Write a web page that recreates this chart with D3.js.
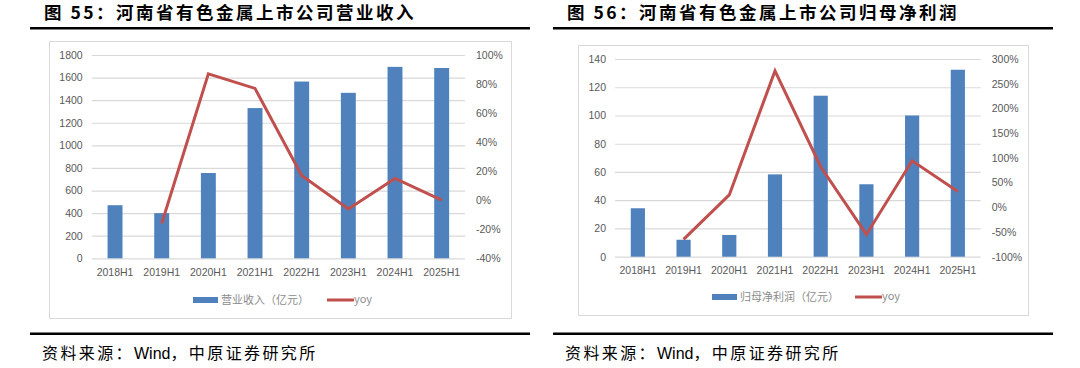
<!DOCTYPE html>
<html>
  <head>
    <meta charset="utf-8">
    <title>河南省有色金属上市公司</title>
    <script src="https://cdn.jsdelivr.net/npm/d3@7"></script>
    <style>
      body { margin: 0; background: #fff; }
      svg { display: block; }
      .title { font-family: "Noto Sans CJK SC", sans-serif; font-size: 17.5px; font-weight: bold; fill: #000; letter-spacing: 2.5px; }
      .source { font-family: "Noto Sans CJK SC", sans-serif; font-size: 16px; fill: #000; letter-spacing: 2.4px; }
      .source tspan.latin { font-family: "Liberation Sans", Arial, sans-serif; letter-spacing: 0; }
      .tick text { font-family: "Liberation Sans", Arial, sans-serif; font-size: 10.5px; fill: #595959; }
      .legend { font-family: "Noto Sans CJK SC", sans-serif; font-size: 11px; fill: #8c8c8c; }
    </style>
  </head>
  <body>
    <svg width="1080" height="368"></svg>
    <script>
      // data
      var categories = ["2018H1", "2019H1", "2020H1", "2021H1", "2022H1", "2023H1", "2024H1", "2025H1"];

      var revenue = [470, 400, 755, 1330, 1565, 1465, 1695, 1685];
      var revenueYoy = [null, -16, 87, 77, 17, -6, 15, 0];
      var revenueTicks = [0, 200, 400, 600, 800, 1000, 1200, 1400, 1600, 1800];
      var revenueYoyTicks = [-40, -20, 0, 20, 40, 60, 80, 100];

      var profit = [34.3, 12, 15.4, 58.3, 114, 51.3, 100, 132.4];
      var profitYoy = [null, -65, 25, 276, 82, -55, 94, 32];
      var profitTicks = [0, 20, 40, 60, 80, 100, 120, 140];
      var profitYoyTicks = [-100, -50, 0, 50, 100, 150, 200, 250, 300];

      var svg = d3.select("svg");

      function drawPanel(p) {
        var g = svg.append("g");

        // title and rules
        g.append("text").attr("class", "title")
          .attr("x", p.titleX).attr("y", 19)
          .text(p.title);
        g.append("rect").attr("x", p.ruleX0).attr("y", 27)
          .attr("width", p.ruleX1 - p.ruleX0).attr("height", 2.5).attr("fill", "#000");
        g.append("rect").attr("x", p.ruleX0).attr("y", 332.5)
          .attr("width", p.ruleX1 - p.ruleX0).attr("height", 2.5).attr("fill", "#000");
        var src = g.append("text").attr("class", "source")
          .attr("x", p.titleX - 2).attr("y", 359);
        src.append("tspan").text("资料来源：");
        src.append("tspan").attr("class", "latin").text("Wind");
        src.append("tspan").text("，中原证券研究所");

        // chart frame
        g.append("rect")
          .attr("x", p.box[0] + 0.5).attr("y", p.box[1] + 0.5)
          .attr("width", p.box[2] - p.box[0]).attr("height", p.box[3] - p.box[1])
          .attr("fill", "#fff").attr("stroke", "#d9d9d9");

        var x = d3.scaleBand()
          .domain(categories)
          .range([p.left, p.right])
          .paddingInner(p.pad)
          .paddingOuter(p.pad / 2);

        var y = d3.scaleLinear()
          .domain([p.ticks[0], p.ticks[p.ticks.length - 1]])
          .range([p.bottom, p.top]);

        var y2 = d3.scaleLinear()
          .domain([p.yoyTicks[0], p.yoyTicks[p.yoyTicks.length - 1]])
          .range([p.bottom, p.top]);

        // gridlines
        var grid = g.append("g")
          .attr("transform", "translate(" + p.left + ",0)")
          .call(d3.axisLeft(y).tickValues(p.ticks).tickSize(-(p.right - p.left)).tickFormat(""));
        grid.select(".domain").remove();
        grid.selectAll("line").attr("stroke", "#d9d9d9").attr("stroke-width", 1.2);

        // left axis labels
        var ay = g.append("g")
          .attr("transform", "translate(" + (p.left - 9) + ",0)")
          .call(d3.axisLeft(y).tickValues(p.ticks).tickSize(0).tickPadding(0)
            .tickFormat(d3.format("d")));
        ay.select(".domain").remove();

        // right axis labels
        var ay2 = g.append("g")
          .attr("transform", "translate(" + (p.right + 11) + ",0)")
          .call(d3.axisRight(y2).tickValues(p.yoyTicks).tickSize(0).tickPadding(0)
            .tickFormat(function (d) { return d + "%"; }));
        ay2.select(".domain").remove();

        // category axis
        var ax = g.append("g")
          .attr("transform", "translate(0," + p.bottom + ")")
          .call(d3.axisBottom(x).tickSize(0).tickPadding(10));
        ax.select(".domain").remove();

        // bars
        g.selectAll(".bar")
          .data(categories)
          .enter().append("rect")
          .attr("x", function (d) { return x(d); })
          .attr("y", function (d, i) { return y(p.values[i]); })
          .attr("width", x.bandwidth())
          .attr("height", function (d, i) { return p.bottom - y(p.values[i]); })
          .attr("fill", "#4f81bd");

        // yoy line
        var line = d3.line()
          .defined(function (d) { return d.v !== null; })
          .x(function (d) { return x(d.c) + x.bandwidth() / 2; })
          .y(function (d) { return y2(d.v); });

        g.append("path")
          .datum(categories.map(function (c, i) { return { c: c, v: p.yoy[i] }; }))
          .attr("d", line)
          .attr("fill", "none")
          .attr("stroke", "#c0504d")
          .attr("stroke-width", 3)
          .attr("stroke-linejoin", "miter");

        // legend
        var lg = g.append("g").attr("transform", "translate(0," + p.legendY + ")");
        lg.append("rect").attr("x", p.legendX).attr("y", -3)
          .attr("width", 25).attr("height", 6).attr("fill", "#4f81bd");
        lg.append("text").attr("class", "legend")
          .attr("x", p.legendX + 28).attr("y", 4)
          .text(p.barName);
        lg.append("rect").attr("x", p.legendX + p.lineOffset).attr("y", -1.5)
          .attr("width", 27).attr("height", 3).attr("fill", "#c0504d");
        lg.append("text").attr("class", "legend")
          .attr("x", p.legendX + p.lineOffset + 27).attr("y", 3)
          .text("yoy");
      }

      drawPanel({
        title: "图 55：河南省有色金属上市公司营业收入",
        titleX: 44, ruleX0: 30, ruleX1: 530,
        box: [49, 41, 511, 318],
        left: 91.7, right: 465, top: 55, bottom: 258.3, pad: 0.68,
        values: revenue, yoy: revenueYoy,
        ticks: revenueTicks, yoyTicks: revenueYoyTicks,
        legendX: 193, legendY: 300, lineOffset: 134,
        barName: "营业收入（亿元）"
      });

      drawPanel({
        title: "图 56：河南省有色金属上市公司归母净利润",
        titleX: 567, ruleX0: 553, ruleX1: 1053,
        box: [578, 45, 1028, 315],
        left: 615, right: 980.7, top: 59, bottom: 256.7, pad: 0.69,
        values: profit, yoy: profitYoy,
        ticks: profitTicks, yoyTicks: profitYoyTicks,
        legendX: 712, legendY: 297, lineOffset: 143,
        barName: "归母净利润（亿元）"
      });
    </script>
  </body>
</html>
